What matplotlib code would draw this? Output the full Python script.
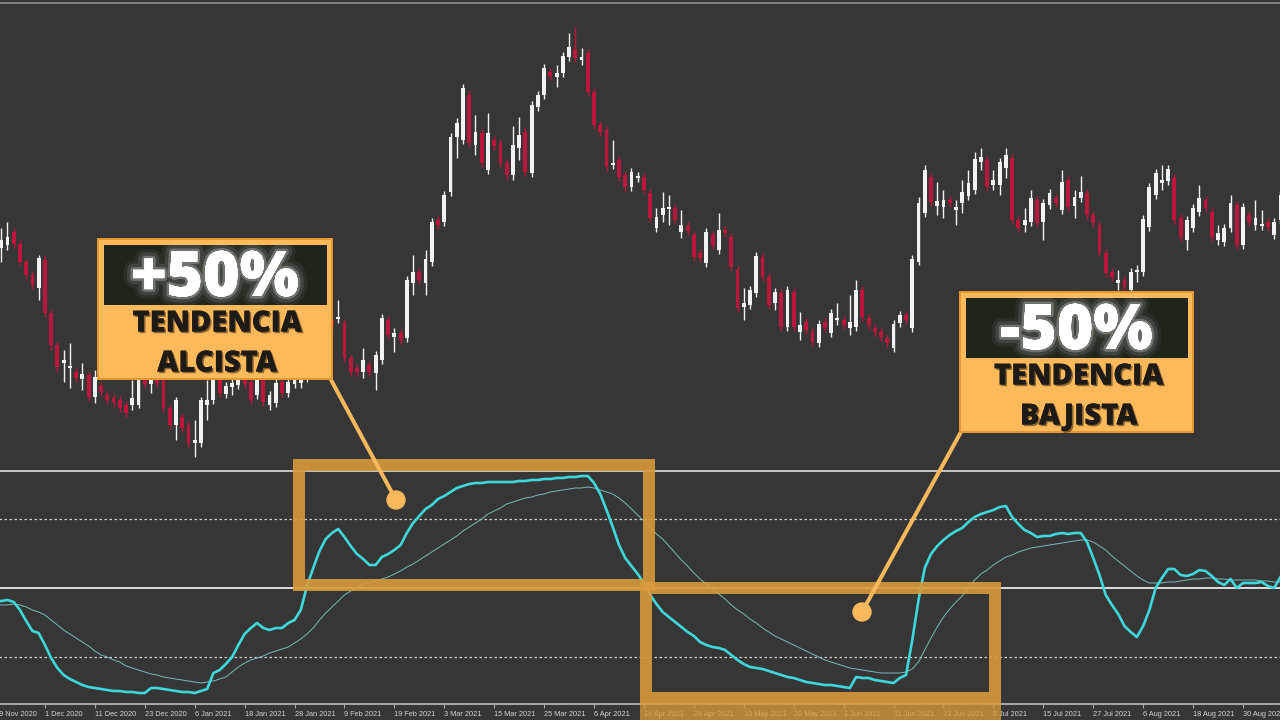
import numpy as np
import matplotlib
matplotlib.use("Agg")
import matplotlib.pyplot as plt
from matplotlib.patches import Rectangle, Circle
import matplotlib.patheffects as pe

# ---------------------------------------------------------------
# Daily candles (bar 1 .. 206)
# ---------------------------------------------------------------
opens = [252, 255, 268, 256, 238, 225, 212, 240, 187, 155,
         137, 132, 128, 121, 125, 103, 114, 105, 102, 100,
         95, 95, 95, 128, 116, 125, 122, 92, 75, 83,
         75, 57, 57, 95, 100, 120, 106, 113, 115, 122,
         118, 105, 120, 95, 97, 118, 107, 116, 117, 122,
         135, 132, 144, 180, 181, 177, 142, 132, 128, 135,
         127, 140, 180, 163, 167, 162, 217, 228, 217, 238,
         280, 278, 308, 363, 360, 405, 355, 367, 330, 360,
         357, 337, 325, 352, 368, 327, 393, 405, 428, 423,
         427, 443, 451, 440, 447, 408, 375, 370, 335, 340,
         325, 313, 322, 323, 307, 272, 285, 291, 292, 268,
         274, 265, 247, 237, 265, 250, 270, 263, 230, 193,
         195, 207, 243, 223, 197, 207, 173, 208, 168, 178,
         168, 157, 178, 167, 180, 180, 172, 173, 210, 182,
         172, 168, 162, 152, 177, 185, 172, 238, 287, 323,
         294, 293, 300, 290, 297, 304, 310, 338, 340, 315,
         315, 332, 342, 280, 275, 278, 300, 278, 295, 302,
         290, 320, 294, 302, 307, 285, 275, 247, 228, 217,
         220, 210, 228, 228, 273, 305, 317, 319, 322, 282,
         260, 272, 288, 300, 288, 260, 258, 272, 295, 255,
         285, 275, 274, 278, 265, 280]

highs = [272, 278, 272, 260, 241, 229, 245, 244, 190, 158,
         150, 157, 132, 137, 129, 130, 118, 109, 106, 104,
         99, 120, 124, 133, 130, 129, 126, 95, 103, 87,
         79, 80, 103, 120, 124, 124, 118, 121, 124, 126,
         122, 124, 124, 109, 121, 122, 122, 127, 130, 139,
         139, 149, 182, 184, 200, 181, 146, 136, 152, 139,
         149, 186, 184, 172, 171, 224, 245, 232, 250, 282,
         284, 309, 367, 382, 416, 410, 385, 371, 387, 364,
         361, 341, 374, 383, 372, 399, 409, 436, 432, 435,
         448, 467, 473, 452, 451, 412, 379, 374, 360, 344,
         329, 332, 328, 327, 311, 292, 308, 305, 296, 290,
         278, 269, 251, 272, 269, 287, 274, 267, 234, 212,
         214, 248, 247, 227, 212, 211, 214, 212, 188, 182,
         172, 180, 182, 191, 197, 184, 205, 220, 214, 186,
         176, 172, 166, 180, 189, 189, 245, 303, 335, 327,
         318, 310, 304, 300, 320, 330, 348, 352, 344, 330,
         342, 352, 346, 284, 292, 310, 304, 301, 311, 306,
         330, 324, 310, 324, 311, 289, 279, 251, 232, 230,
         224, 232, 235, 285, 317, 331, 335, 335, 326, 286,
         284, 296, 315, 304, 292, 275, 276, 305, 299, 297,
         289, 300, 290, 282, 282, 309]

lows = [238, 250, 252, 235, 221, 211, 200, 183, 150, 128,
        118, 112, 118, 110, 99, 97, 104, 96, 93, 88,
        83, 90, 92, 112, 107, 113, 88, 71, 60, 68,
        53, 43, 53, 80, 96, 103, 102, 105, 111, 112,
        96, 101, 94, 90, 93, 103, 103, 112, 112, 118,
        124, 128, 140, 170, 177, 138, 124, 124, 122, 124,
        110, 136, 161, 148, 156, 158, 205, 216, 205, 234,
        271, 274, 304, 342, 356, 353, 345, 333, 326, 350,
        333, 320, 320, 340, 324, 323, 389, 401, 420, 413,
        423, 439, 438, 435, 404, 371, 364, 329, 331, 319,
        309, 309, 318, 306, 278, 268, 278, 275, 276, 262,
        265, 239, 238, 233, 251, 246, 263, 229, 188, 180,
        191, 203, 219, 191, 190, 169, 169, 169, 160, 166,
        154, 153, 168, 163, 175, 171, 165, 169, 179, 171,
        164, 159, 153, 148, 173, 176, 168, 235, 283, 294,
        285, 282, 293, 275, 287, 300, 306, 330, 309, 310,
        305, 322, 276, 268, 268, 274, 273, 260, 291, 293,
        286, 289, 282, 298, 281, 273, 244, 223, 219, 210,
        209, 206, 218, 224, 269, 301, 310, 315, 276, 259,
        250, 268, 284, 288, 259, 255, 254, 268, 251, 251,
        274, 270, 270, 269, 261, 276]

closes = [260, 263, 256, 238, 225, 215, 242, 187, 155, 133,
          140, 134, 122, 126, 103, 123, 108, 100, 97, 92,
          87, 102, 120, 116, 125, 117, 92, 75, 100, 72,
          57, 60, 100, 100, 120, 107, 114, 117, 120, 116,
          100, 120, 98, 105, 117, 107, 118, 123, 120, 135,
          128, 145, 178, 174, 183, 142, 128, 128, 140, 128,
          145, 182, 165, 167, 160, 220, 228, 220, 241, 278,
          275, 305, 363, 377, 412, 357, 368, 337, 367, 354,
          337, 325, 355, 365, 328, 395, 405, 432, 424, 427,
          444, 453, 442, 443, 408, 375, 368, 333, 337, 323,
          313, 328, 324, 310, 282, 283, 292, 293, 280, 275,
          269, 243, 242, 268, 255, 270, 267, 233, 192, 197,
          210, 244, 223, 195, 208, 173, 210, 173, 175, 170,
          158, 176, 172, 187, 182, 175, 178, 210, 183, 175,
          168, 163, 157, 176, 185, 180, 241, 297, 330, 298,
          299, 300, 297, 293, 308, 317, 341, 343, 313, 320,
          338, 345, 280, 272, 280, 302, 277, 297, 307, 297,
          318, 293, 303, 308, 285, 277, 248, 227, 223, 220,
          213, 228, 230, 281, 313, 327, 320, 331, 280, 263,
          280, 292, 302, 292, 263, 267, 272, 297, 255, 293,
          278, 282, 276, 273, 278, 305]

# ---------------------------------------------------------------
# Oscillator (bar 0 .. 206): main line and signal line
# ---------------------------------------------------------------
osc_main = [-13, -13, -12, -14, -22, -33, -43, -45, -57, -70,
            -80, -87, -91, -94, -97, -99, -100, -101, -102, -103,
            -103, -104, -104, -105, -105, -100, -100, -101, -102, -103,
            -104, -104, -105, -103, -101, -85, -82, -76, -69, -57,
            -46, -40, -35, -40, -42, -40, -40, -35, -32, -22,
            2, 20, 37, 49, 55, 59, 51, 42, 34, 29,
            23, 23, 31, 34, 38, 43, 55, 65, 72, 79,
            83, 89, 92, 96, 100, 102, 104, 105, 105, 106,
            106, 106, 106, 106, 107, 107, 108, 108, 109, 109,
            110, 110, 111, 111, 112, 112, 105, 94, 78, 61,
            43, 30, 22, 14, 5, -7, -16, -24, -29, -34,
            -39, -44, -48, -54, -57, -59, -60, -62, -67, -72,
            -76, -79, -80, -81, -83, -85, -87, -89, -90, -92,
            -94, -95, -96, -97, -97, -98, -99, -100, -89, -90,
            -90, -92, -93, -94, -95, -90, -87, -52, -12, 20,
            34, 42, 48, 53, 57, 60, 66, 71, 74, 76,
            78, 81, 82, 71, 64, 58, 55, 51, 52, 52,
            54, 55, 54, 55, 55, 46, 30, 13, -7, -17,
            -26, -38, -44, -49, -38, -22, 0, 10, 19, 19,
            13, 12, 14, 18, 17, 12, 6, 3, 9, 0,
            5, 5, 5, 6, 2, 0, 11]

osc_signal = [-17, -17, -17, -16, -17, -19, -22, -24, -27, -32,
              -37, -42, -46, -50, -54, -58, -63, -67, -69, -72,
              -74, -78, -80, -82, -84, -86, -87, -89, -90, -91,
              -92, -93, -94, -95, -94, -93, -91, -89, -84, -79,
              -75, -72, -70, -68, -65, -63, -61, -59, -55, -51,
              -46, -40, -32, -25, -19, -13, -7, -3, 1, 4,
              5, 7, 9, 11, 14, 17, 21, 24, 28, 32,
              36, 40, 44, 48, 52, 57, 61, 65, 69, 74,
              77, 80, 84, 86, 88, 90, 91, 93, 94, 96,
              97, 98, 99, 100, 100, 101, 100, 98, 96, 94,
              90, 85, 79, 73, 67, 61, 54, 49, 42, 35,
              28, 22, 15, 9, 4, -1, -6, -11, -17, -22,
              -26, -31, -35, -40, -44, -48, -51, -54, -57, -60,
              -63, -66, -69, -72, -74, -76, -78, -80, -81, -82,
              -83, -84, -85, -85, -85, -85, -84, -81, -74, -62,
              -50, -39, -29, -21, -14, -8, 0, 8, 14, 18,
              23, 27, 31, 33, 36, 38, 40, 41, 42, 43,
              44, 45, 46, 47, 48, 48, 46, 42, 38, 32,
              27, 22, 17, 12, 8, 5, 5, 5, 6, 6,
              7, 8, 9, 9, 10, 10, 9, 9, 8, 8,
              8, 8, 8, 7, 7, 6, 6]

osc_levels = [69, -69]

# date labels, one every 8 bars starting at bar 0
date_labels = ["19 Nov 2020", "1 Dec 2020", "11 Dec 2020", "23 Dec 2020",
               "6 Jan 2021", "18 Jan 2021", "28 Jan 2021", "9 Feb 2021",
               "19 Feb 2021", "3 Mar 2021", "15 Mar 2021", "25 Mar 2021",
               "6 Apr 2021", "16 Apr 2021", "28 Apr 2021", "10 May 2021",
               "20 May 2021", "1 Jun 2021", "11 Jun 2021", "23 Jun 2021",
               "5 Jul 2021", "15 Jul 2021", "27 Jul 2021", "6 Aug 2021",
               "18 Aug 2021", "30 Aug 2021"]
label_step = 8

# ---------------------------------------------------------------
# layout / colours
# ---------------------------------------------------------------
W, H = 1280.0, 720.0
BG = '#363636'
UP = '#f2f2f2'
DOWN = '#bc163c'
CYAN = '#3fd8da'
SIGNAL = '#78b9b9'
BOX = '#d99a3c'
CALLOUT = '#fdb95a'
LINK = '#f7b95c'

bar_px = 6.24      # width of one bar in pixels
bar0_px = -5.0     # pixel column of bar 0
x_lo = -0.5
x_hi = (W - bar0_px) / bar_px
left_px = bar0_px + x_lo * bar_px

fig = plt.figure(figsize=(12.8, 7.2), dpi=100, facecolor=BG)

ax_p = fig.add_axes([left_px / W, 1 - 469 / H, (W - left_px) / W, 466 / H])
ax_i = fig.add_axes([left_px / W, 1 - 704 / H, (W - left_px) / W, 233 / H], sharex=ax_p)

for ax in (ax_p, ax_i):
    ax.set_facecolor(BG)
    for s in ax.spines.values():
        s.set_visible(False)
    ax.set_yticks([])

# ---- price panel ----
o = np.array(opens, float)
c = np.array(closes, float)
hi = np.array(highs, float)
lo = np.array(lows, float)
bars = np.arange(1, len(o) + 1)
bull = c >= o
cols = np.where(bull, UP, DOWN)
body_lo = np.minimum(o, c)
body_h = np.maximum(np.abs(c - o), 1.5)

ax_p.vlines(bars, lo, hi, colors=cols, lw=1.0, zorder=2)
ax_p.bar(bars, body_h, bottom=body_lo, width=0.62, color=cols, linewidth=0, zorder=3)
ax_p.set_xlim(x_lo, x_hi)
ax_p.set_ylim(31, 497)
ax_p.spines['top'].set_visible(True)
ax_p.spines['top'].set_color('#8e8e8e')
ax_p.spines['top'].set_linewidth(1.2)
ax_p.tick_params(axis='x', bottom=False, labelbottom=False)

# ---- oscillator panel ----
ix = np.arange(len(osc_main))
ax_i.axhline(0, color='#dedede', lw=1.4, zorder=1)
for lv in osc_levels:
    ax_i.axhline(lv, color='#cfcfcf', lw=0.9, ls=(0, (2, 2)), zorder=1)
ax_i.plot(ix, osc_signal, color=SIGNAL, lw=0.7, zorder=2)
ax_i.plot(ix, osc_main, color=CYAN, lw=1.9, zorder=3)
ax_i.set_ylim(-116, 117)
ax_i.spines['top'].set_visible(True)
ax_i.spines['top'].set_color('#c4c4c4')
ax_i.spines['top'].set_linewidth(1.4)
ax_i.spines['bottom'].set_visible(True)
ax_i.spines['bottom'].set_color('#a9a9a9')
ax_i.spines['bottom'].set_linewidth(1.4)

tick_pos = np.arange(len(date_labels)) * label_step
ax_i.set_xticks(tick_pos)
ax_i.set_xticklabels(date_labels, ha='left', family='Liberation Sans')
ax_i.tick_params(axis='x', colors='#a9a9a9', labelcolor='#d2d2d2', labelsize=5.3,
                 length=3, width=0.8, pad=2, direction='out')
ax_i.set_xlim(x_lo, x_hi)

# ---------------------------------------------------------------
# overlay (pixel coordinates) for the highlight boxes and call-outs
# ---------------------------------------------------------------
ov = fig.add_axes([0, 0, 1, 1], zorder=10)
ov.set_xlim(0, W)
ov.set_ylim(H, 0)
ov.axis('off')
ov.patch.set_alpha(0)

px = 0.72  # points per pixel
ov.add_patch(Rectangle((299, 465), 350, 120, fill=False, ec=BOX, lw=12 * px,
                       alpha=0.9, joinstyle='miter'))
ov.add_patch(Rectangle((646, 588), 349, 110, fill=False, ec=BOX, lw=12 * px,
                       alpha=0.9, joinstyle='miter'))
# the second box runs off the bottom edge, over the date labels
ov.add_patch(Rectangle((640, 704), 361, 16, fc=BOX, ec='none', alpha=0.78))

glow = [pe.withStroke(linewidth=14, foreground=(1, 1, 1, 0.05)),
        pe.withStroke(linewidth=9, foreground=(1, 1, 1, 0.1)),
        pe.withStroke(linewidth=4, foreground=(1, 1, 1, 0.25)),
        pe.Normal()]
shadow = [pe.withSimplePatchShadow(offset=(1.2, -1.2), shadow_rgbFace='#000000', alpha=0.45),
          pe.Normal()]
font = ['Open Sans', 'DejaVu Sans']


def callout(x0, y0, w, h, big, line1, line2, anchor, dot):
    # connector line and dot
    ov.plot([anchor[0], dot[0]], [anchor[1], dot[1]], color=LINK, lw=4 * px,
            solid_capstyle='round', zorder=2)
    ov.add_patch(Circle(dot, 9, color=LINK, zorder=3))
    # label card
    ov.add_patch(Rectangle((x0, y0), w, h, fc=CALLOUT, ec='#e8962f', lw=2 * px, zorder=4))
    ov.add_patch(Rectangle((x0 + 6, y0 + 6), w - 11, 60, fc='#1f241c', ec='none', zorder=5))
    ov.text(x0 + w / 2, y0 + 40, big, color='white', fontsize=45, fontweight='heavy',
            family=font, ha='center', va='center', path_effects=glow, zorder=6)
    ov.text(x0 + w / 2 + 2, y0 + 85, line1, color='#1e1b16', fontsize=21, fontweight='heavy',
            family=font, ha='center', va='center', path_effects=shadow, zorder=6)
    ov.text(x0 + w / 2 + 2, y0 + 125, line2, color='#1e1b16', fontsize=21, fontweight='heavy',
            family=font, ha='center', va='center', path_effects=shadow, zorder=6)


callout(98, 239, 234, 140, '+50%', 'TENDENCIA', 'ALCISTA', (330, 378), (396, 500))
callout(960, 292, 233, 140, '-50%', 'TENDENCIA', 'BAJISTA', (962, 430), (862, 612))

fig.savefig('out.png', dpi=100, facecolor=BG)
